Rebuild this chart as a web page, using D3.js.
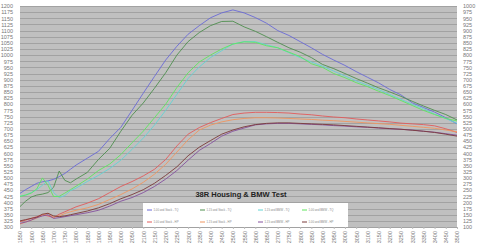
<!DOCTYPE html>
<html>
<head>
  <title>38R Housing & BMW Test</title>
  <script src="https://d3js.org/d3.v7.min.js"></script>
  <style>
    body { margin: 0; background: #fff; }
    text { font-family: "Liberation Sans", Arial, sans-serif; }
  </style>
</head>
<body>

<script>
// rpm points the curves were read at
const rpm = [1550, 1575, 1600, 1625, 1650, 1675, 1700, 1725, 1750, 1775, 1800,
  1850, 1900, 1950, 2000, 2050, 2100, 2150, 2200, 2250, 2300, 2350, 2400, 2450, 2500,
  2550, 2600, 2650, 2700, 2750, 2800, 2850, 2900, 2950, 3000, 3050, 3100, 3150, 3200,
  3250, 3300, 3350, 3400, 3450, 3500];

// torque, left axis
const tq100Stock = [437, 452, 465, 478, 484, 488, 494, 505, 518, 535, 552,
  580, 608, 660, 706, 775, 845, 913, 980, 1036, 1085, 1120, 1152, 1172, 1184,
  1172, 1153, 1130, 1100, 1080, 1055, 1030, 1003, 980, 958, 933, 910, 887, 860,
  838, 806, 787, 768, 745, 720];
const tq115Stock = [383, 405, 422, 430, 434, 440, 462, 528, 490, 480, 495,
  522, 575, 620, 690, 755, 805, 865, 928, 1000, 1055, 1092, 1120, 1137, 1138,
  1115, 1097, 1075, 1052, 1030, 1012, 990, 962, 945, 925, 905, 886, 867, 850,
  832, 812, 793, 775, 758, 736];
const tq115Bmw = [426, 430, 440, 452, 470, 488, 440, 420, 428, 448, 458,
  485, 510, 538, 572, 616, 662, 715, 775, 840, 905, 952, 990, 1018, 1045,
  1055, 1055, 1042, 1030, 1010, 990, 972, 955, 935, 915, 895, 878, 860, 840,
  820, 800, 782, 760, 742, 722];
const tq100Bmw = [424, 430, 438, 455, 500, 470, 424, 425, 438, 452, 466,
  495, 530, 556, 595, 643, 690, 745, 800, 868, 928, 972, 1000, 1025, 1045,
  1054, 1052, 1038, 1030, 1012, 994, 965, 950, 925, 908, 888, 872, 853, 835,
  815, 795, 775, 758, 742, 732];

// horsepower, right axis
const hp100Stock = [122, 128, 135, 142, 150, 145, 138, 152, 162, 172, 182,
  197, 215, 240, 265, 285, 308, 335, 375, 430, 478, 505, 525, 542, 558,
  564, 567, 567, 566, 564, 560, 557, 552, 548, 545, 540, 536, 532, 528,
  523, 520, 517, 512, 500, 485];
const hp115Stock = [112, 120, 128, 136, 148, 156, 140, 145, 155, 162, 168,
  178, 192, 212, 232, 255, 282, 315, 355, 405, 455, 495, 515, 528, 537,
  542, 545, 545, 544, 542, 540, 538, 535, 533, 530, 527, 524, 521, 518,
  514, 510, 506, 502, 495, 488];
const hp115Bmw = [115, 120, 128, 138, 145, 150, 135, 138, 142, 146, 150,
  158, 168, 185, 205, 220, 240, 265, 295, 330, 372, 412, 440, 470, 490,
  503, 516, 520, 522, 522, 520, 518, 516, 513, 511, 508, 506, 503, 500,
  498, 495, 490, 486, 480, 474];
const hp100Bmw = [125, 130, 135, 140, 152, 156, 145, 142, 145, 150, 155,
  165, 178, 195, 215, 232, 252, 278, 310, 345, 390, 425, 452, 478, 495,
  508, 517, 522, 524, 524, 522, 520, 518, 516, 513, 510, 507, 504, 501,
  498, 494, 490, 485, 478, 470];

const seriesNames = ['1.00 and Stock - TQ', '1.15 and Stock - TQ', '1.15 and BMW - TQ', '1.00 and BMW - TQ',
  '1.00 and Stock - HP', '1.15 and Stock - HP', '1.15 and BMW - HP', '1.00 and BMW - HP'];
const seriesValues = [tq100Stock, tq115Stock, tq115Bmw, tq100Bmw, hp100Stock, hp115Stock, hp115Bmw, hp100Bmw];
const seriesAxis = ['left', 'left', 'left', 'left', 'right', 'right', 'right', 'right'];
const colors = ['#6a6ad6', '#4f8f4f', '#62d4d4', '#5ee65e', '#e25a5a', '#f0955f', '#84509e', '#7a3a3a'];

const title = '38R Housing & BMW Test';

const width = 480, height = 248;
const plot = { left: 20, right: 457, top: 6, bottom: 227 };

const svg = d3.select('body').append('svg')
  .attr('width', width)
  .attr('height', height);

const x = d3.scaleLinear().domain([1550, 3500]).range([plot.left, plot.right]);
const yLeft = d3.scaleLinear().domain([300, 1200]).range([plot.bottom, plot.top]);
const yRight = d3.scaleLinear().domain([100, 1000]).range([plot.bottom, plot.top]);

// plot background
svg.append('rect')
  .attr('x', plot.left).attr('y', plot.top)
  .attr('width', plot.right - plot.left).attr('height', plot.bottom - plot.top)
  .attr('fill', '#c0c0c0');

// gridlines
svg.append('g')
  .selectAll('line')
  .data(d3.range(300, 1201, 25))
  .join('line')
    .attr('x1', plot.left).attr('x2', plot.right)
    .attr('y1', d => Math.round(yLeft(d)) + 0.5)
    .attr('y2', d => Math.round(yLeft(d)) + 0.5)
    .attr('stroke', '#a2a2a2');

// axes
const fmt = d3.format('d');
const leftAxis = svg.append('g')
  .attr('transform', `translate(${plot.left},0)`)
  .call(d3.axisLeft(yLeft).tickValues(d3.range(300, 1201, 25)).tickSize(0).tickPadding(7).tickFormat(fmt));
const rightAxis = svg.append('g')
  .attr('transform', `translate(${plot.right},0)`)
  .call(d3.axisRight(yRight).tickValues(d3.range(100, 1001, 25)).tickSize(0).tickPadding(6).tickFormat(fmt));
const bottomAxis = svg.append('g')
  .attr('transform', `translate(0,${plot.bottom})`)
  .call(d3.axisBottom(x).tickValues(d3.range(1550, 3501, 50)).tickSize(2).tickFormat(fmt));

[leftAxis, rightAxis, bottomAxis].forEach(a => {
  a.select('.domain').remove();
  a.selectAll('text').attr('font-size', 5.5).attr('fill', '#777');
  a.selectAll('line').attr('stroke', '#bbb');
});
bottomAxis.selectAll('text')
  .attr('transform', 'rotate(-90)')
  .attr('text-anchor', 'end')
  .attr('x', -4)
  .attr('y', 0)
  .attr('dy', '0.35em');

// curves
const line = yScale => d3.line()
  .x((d, i) => x(rpm[i]))
  .y(d => yScale(d));

svg.append('g')
  .selectAll('path')
  .data(seriesValues)
  .join('path')
    .attr('d', (d, i) => line(seriesAxis[i] === 'left' ? yLeft : yRight)(d))
    .attr('fill', 'none')
    .attr('stroke', (d, i) => colors[i])
    .attr('stroke-width', 0.9);

// title
svg.append('text')
  .attr('x', 241).attr('y', 197)
  .attr('text-anchor', 'middle')
  .attr('font-size', 7.5)
  .attr('font-weight', 'bold')
  .attr('fill', '#222')
  .text(title);

// legend
const legend = svg.append('g');
legend.append('rect')
  .attr('x', 143).attr('y', 203)
  .attr('width', 205).attr('height', 24)
  .attr('fill', '#fff');

const colX = [147, 200, 258, 302];
const rowY = [210, 222];
const item = legend.selectAll('g.item')
  .data(seriesNames)
  .join('g')
    .attr('class', 'item')
    .attr('transform', (d, i) => `translate(${colX[i % 4]},${rowY[Math.floor(i / 4)]})`);
item.append('line')
  .attr('x1', 0).attr('x2', 5)
  .attr('stroke', (d, i) => colors[i])
  .attr('stroke-width', 1);
item.append('text')
  .attr('x', 6.5).attr('dy', '0.35em')
  .attr('font-size', 4.2)
  .attr('textLength', 25)
  .attr('lengthAdjust', 'spacingAndGlyphs')
  .attr('fill', '#888')
  .text(d => d);
</script>

</body>
</html>
